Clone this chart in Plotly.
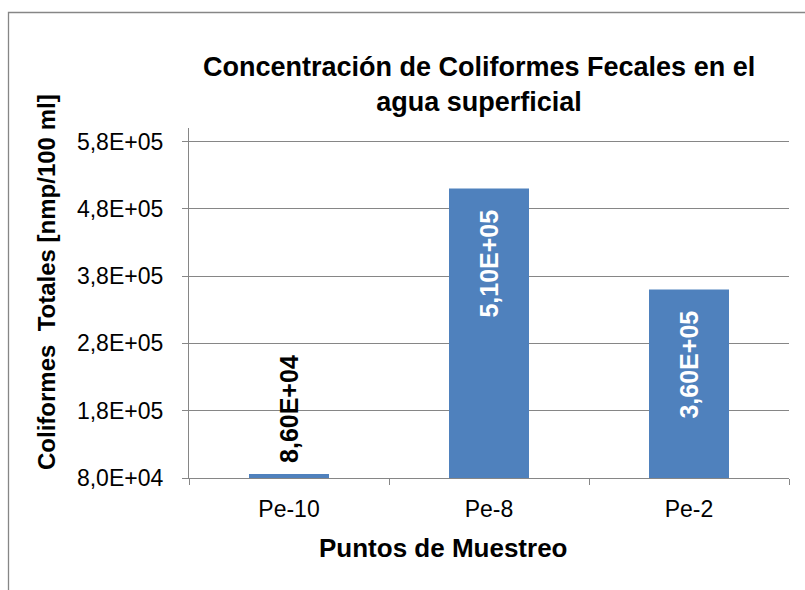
import plotly.graph_objects as go

# Sampling points and fecal coliform concentrations (nmp/100 ml)
puntos = ["Pe-10", "Pe-8", "Pe-2"]
coliformes = [8.6e4, 5.1e5, 3.6e5]

# Value axis ticks
y_ticks = [8.0e4, 1.8e5, 2.8e5, 3.8e5, 4.8e5, 5.8e5]
y_tick_labels = ["8,0E+04", "1,8E+05", "2,8E+05", "3,8E+05", "4,8E+05", "5,8E+05"]
y_min, y_max = 8.0e4, 6.0e5

FONT = "Liberation Sans, Arial, sans-serif"
BAR = "#4F81BD"
GRID = "#868686"

W, H = 805, 590
ML, MR, MT, MB = 189, 16, 128, 112
PW, PH = W - ML - MR, H - MT - MB


def px_x(px):
    return (px - ML) / PW


def px_y(py):
    return (H - MB - py) / PH


def sci_es(v):
    return f"{v:.2E}".replace(".", ",")


# bars start at the axis minimum, so their length is value - minimum
fig = go.Figure(
    go.Bar(
        x=puntos,
        y=[v - y_min for v in coliformes],
        base=y_min,
        marker=dict(color=BAR, line=dict(width=0)),
        hoverinfo="skip",
    )
)

annotations = []
for p, v in zip(puntos, coliformes):
    inside = (v - y_min) > 1.5e5
    annotations.append(
        dict(
            x=p,
            y=v,
            xref="x",
            yref="y",
            text=sci_es(v),
            textangle=-90,
            showarrow=False,
            yanchor="top" if inside else "bottom",
            yshift=-19 if inside else 9,
            font=dict(family=FONT, size=25, color="white" if inside else "black", weight="bold"),
        )
    )

annotations += [
    dict(
        x=px_x(479), y=px_y(84), xref="paper", yref="paper",
        text="<b>Concentración de Coliformes Fecales en el<br>agua superficial</b>",
        showarrow=False, xanchor="center", yanchor="middle",
        font=dict(family=FONT, size=27, color="black"),
    ),
    dict(
        x=px_x(46), y=px_y(282), xref="paper", yref="paper",
        text="<b>Coliformes  Totales [nmp/100 ml]</b>",
        textangle=-90, showarrow=False, xanchor="center", yanchor="middle",
        font=dict(family=FONT, size=24, color="black"),
    ),
    dict(
        x=px_x(443), y=px_y(548), xref="paper", yref="paper",
        text="<b>Puntos de Muestreo</b>",
        showarrow=False, xanchor="center", yanchor="middle",
        font=dict(family=FONT, size=26, color="black"),
    ),
]

fig.update_layout(
    width=W,
    height=H,
    margin=dict(l=ML, r=MR, t=MT, b=MB, pad=0),
    paper_bgcolor="white",
    plot_bgcolor="white",
    bargap=0.6,
    showlegend=False,
    font=dict(family=FONT, color="black"),
    annotations=annotations,
    shapes=[
        dict(
            type="rect", xref="paper", yref="paper",
            x0=px_x(8.5), x1=px_x(815), y0=px_y(600), y1=px_y(12.5),
            line=dict(color=GRID, width=1.3), fillcolor="rgba(0,0,0,0)",
            layer="below",
        )
    ],
)

fig.update_xaxes(
    type="category",
    showline=True,
    linecolor=GRID,
    linewidth=1.3,
    ticks="outside",
    tickson="boundaries",
    ticklen=6,
    tickcolor=GRID,
    tickwidth=1.3,
    showgrid=False,
    tickfont=dict(family=FONT, size=23, color="black"),
    ticklabelstandoff=10,
)

fig.update_yaxes(
    range=[y_min, y_max],
    tickvals=y_ticks,
    ticktext=y_tick_labels,
    showline=True,
    linecolor=GRID,
    linewidth=1.3,
    ticks="outside",
    ticklen=6,
    tickcolor=GRID,
    tickwidth=1.3,
    showgrid=True,
    gridcolor=GRID,
    gridwidth=1.3,
    zeroline=False,
    tickfont=dict(family=FONT, size=23, color="black"),
    ticklabelstandoff=14,
)

fig.write_html("out.html")
